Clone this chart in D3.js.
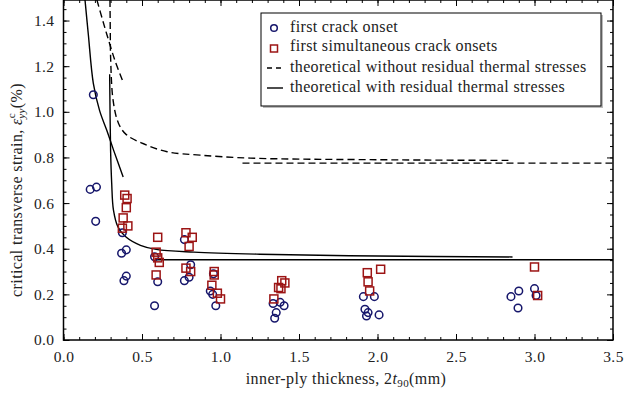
<!DOCTYPE html>
<html>
<head>
<meta charset="utf-8">
<script src="https://cdn.jsdelivr.net/npm/d3@7"></script>
<style>
  body { margin: 0; background: #fff; }
  text { font-family: "Liberation Serif", serif; fill: #222; }
</style>
</head>
<body>
<div id="chart"></div>
<script>
// first crack onset (circles)
const onsetX = [0.19, 0.17, 0.21, 0.205, 0.375, 0.37, 0.40, 0.385, 0.40, 0.58, 0.60, 0.58,
  0.77, 0.81, 0.77, 0.80, 0.955, 0.935, 0.95, 0.97, 1.335, 1.38, 1.405, 1.355, 1.345,
  1.91, 1.98, 1.92, 1.94, 1.93, 2.01, 2.85, 2.90, 2.895, 3.0, 3.01];
const onsetY = [1.075, 0.66, 0.67, 0.52, 0.47, 0.38, 0.395, 0.26, 0.28, 0.365, 0.255, 0.15,
  0.44, 0.33, 0.26, 0.275, 0.29, 0.215, 0.2, 0.15, 0.16, 0.165, 0.15, 0.12, 0.095,
  0.19, 0.19, 0.135, 0.12, 0.105, 0.11, 0.19, 0.215, 0.14, 0.225, 0.195];

// first simultaneous crack onsets (squares)
const simulX = [0.39, 0.405, 0.40, 0.38, 0.375, 0.41, 0.60, 0.59, 0.60, 0.61, 0.59,
  0.78, 0.82, 0.80, 0.78, 0.81, 0.96, 0.96, 0.945, 0.98, 1.00,
  1.39, 1.41, 1.37, 1.385, 1.34, 1.935, 2.02, 1.94, 1.95, 3.0, 3.02];
const simulY = [0.635, 0.62, 0.58, 0.535, 0.49, 0.50, 0.45, 0.385, 0.36, 0.34, 0.285,
  0.47, 0.45, 0.41, 0.315, 0.30, 0.30, 0.285, 0.24, 0.205, 0.18,
  0.26, 0.25, 0.23, 0.225, 0.18, 0.295, 0.31, 0.255, 0.215, 0.32, 0.195];

// theoretical without residual thermal stresses (dashed)
const noResAX = [0.213, 0.25, 0.28, 0.33, 0.38];
const noResAY = [1.49, 1.40, 1.33, 1.22, 1.13];
const noResBX = [0.296, 0.298, 0.30, 0.316, 0.35, 0.40, 0.51, 0.66, 0.87, 1.19, 2.0, 2.86];
const noResBY = [1.49, 1.35, 1.24, 1.05, 0.95, 0.90, 0.86, 0.825, 0.81, 0.797, 0.79, 0.787];
const noResFlatX = [1.14, 3.5];
const noResFlatY = [0.775, 0.775];

// theoretical with residual thermal stresses (solid)
const resAX = [0.137, 0.158, 0.19, 0.23, 0.275, 0.32, 0.38];
const resAY = [1.49, 1.34, 1.125, 1.005, 0.92, 0.83, 0.714];
const resBX = [0.294, 0.30, 0.307, 0.318, 0.347, 0.40, 0.49, 0.59, 0.83, 1.25, 2.0, 2.86];
const resBY = [1.165, 0.83, 0.687, 0.57, 0.495, 0.45, 0.415, 0.397, 0.385, 0.376, 0.368, 0.364];
const resFlatX = [0.583, 3.5];
const resFlatY = [0.352, 0.352];

const xTicks = [0, 0.5, 1.0, 1.5, 2.0, 2.5, 3.0, 3.5];
const yTicks = [0, 0.2, 0.4, 0.6, 0.8, 1.0, 1.2, 1.4];

const legendLabels = ['first crack onset', 'first simultaneous crack onsets',
  'theoretical without residual thermal stresses', 'theoretical with residual thermal stresses'];

const width = 638, height = 396;
const navy = '#16166b', red = '#9c1414';

const svg = d3.select('#chart').append('svg')
  .attr('width', width)
  .attr('height', height);

const x = d3.scaleLinear().domain([0, 3.5]).range([63.5, 613]);
const y = d3.scaleLinear().domain([0, 1.49]).range([340, 0]);

const plot = svg.append('g');

plot.append('clipPath').attr('id', 'clip')
  .append('rect').attr('x', 63.5).attr('y', 0).attr('width', 613 - 63.5).attr('height', 340);

const zip = (xs, ys) => xs.map((v, i) => [v, ys[i]]);
const line = d3.line().x(d => x(d[0])).y(d => y(d[1])).curve(d3.curveCatmullRom.alpha(0.5));

const curves = plot.append('g').attr('clip-path', 'url(#clip)');
[[noResAX, noResAY], [noResBX, noResBY], [noResFlatX, noResFlatY]].forEach(c => {
  curves.append('path').datum(zip(c[0], c[1]))
    .attr('d', line).attr('fill', 'none').attr('stroke', '#000')
    .attr('stroke-width', 1.4).attr('stroke-dasharray', '7,4');
});
[[resAX, resAY], [resBX, resBY], [resFlatX, resFlatY]].forEach(c => {
  curves.append('path').datum(zip(c[0], c[1]))
    .attr('d', line).attr('fill', 'none').attr('stroke', '#000')
    .attr('stroke-width', 1.4);
});

plot.selectAll('.onset')
  .data(zip(onsetX, onsetY))
  .enter().append('circle')
  .attr('class', 'onset')
  .attr('cx', d => x(d[0]))
  .attr('cy', d => y(d[1]))
  .attr('r', 3.8)
  .attr('fill', 'none')
  .attr('stroke', navy)
  .attr('stroke-width', 1.5);

plot.selectAll('.simul')
  .data(zip(simulX, simulY))
  .enter().append('rect')
  .attr('class', 'simul')
  .attr('x', d => x(d[0]) - 4)
  .attr('y', d => y(d[1]) - 4)
  .attr('width', 8)
  .attr('height', 8)
  .attr('fill', 'none')
  .attr('stroke', red)
  .attr('stroke-width', 1.5);

// axes with inward ticks on all four sides
const xMinor = d3.range(0, 3.51, 0.1);
const yMinor = d3.range(0, 1.49, 0.05);

function addAxis(axis, tx, ty, labels) {
  const g = svg.append('g').attr('transform', `translate(${tx},${ty})`).call(axis);
  g.select('.domain').remove();
  g.selectAll('line').attr('stroke', '#000').attr('stroke-width', 1);
  if (!labels) g.selectAll('text').remove();
  return g;
}

addAxis(d3.axisBottom(x).tickValues(xTicks).tickSize(-6).tickPadding(11).tickFormat(d3.format('.1f')), 0, 340, true)
  .selectAll('text').style('font-size', '15.5px').style('letter-spacing', '0.4px');
addAxis(d3.axisBottom(x).tickValues(xMinor).tickSize(-3), 0, 340, false);
addAxis(d3.axisTop(x).tickValues(xTicks).tickSize(-6), 0, 0, false);
addAxis(d3.axisTop(x).tickValues(xMinor).tickSize(-3), 0, 0, false);
addAxis(d3.axisLeft(y).tickValues(yTicks).tickSize(-6).tickPadding(9).tickFormat(d3.format('.1f')), 63.5, 0, true)
  .selectAll('text').style('font-size', '15.5px').style('letter-spacing', '0.4px');
addAxis(d3.axisLeft(y).tickValues(yMinor).tickSize(-3), 63.5, 0, false);
addAxis(d3.axisRight(y).tickValues(yTicks).tickSize(-6), 613, 0, false);
addAxis(d3.axisRight(y).tickValues(yMinor).tickSize(-3), 613, 0, false);

svg.append('rect')
  .attr('x', 63.5).attr('y', 0)
  .attr('width', 613 - 63.5).attr('height', 340)
  .attr('fill', 'none').attr('stroke', '#000').attr('stroke-width', 1.5);

// axis labels
const xl = svg.append('text')
  .attr('x', 346).attr('y', 384)
  .attr('text-anchor', 'middle')
  .style('font-size', '16px')
  .style('letter-spacing', '0.4px');
xl.append('tspan').text('inner-ply thickness, 2');
xl.append('tspan').style('font-style', 'italic').text('t');
xl.append('tspan').attr('dy', 3).style('font-size', '11px').text('90');
xl.append('tspan').attr('dy', -3).text('(mm)');

const yl = svg.append('text')
  .attr('transform', 'translate(22,190) rotate(-90)')
  .attr('text-anchor', 'middle')
  .style('font-size', '16px')
  .style('letter-spacing', '0.4px');
yl.append('tspan').text('critical transverse strain, ');
yl.append('tspan').style('font-style', 'italic').text('ε');
yl.append('tspan').attr('dy', -7).style('font-size', '11px').text('c');
yl.append('tspan').attr('dx', -6).attr('dy', 10).style('font-size', '11px').style('font-style', 'italic').text('yy');
yl.append('tspan').attr('dy', -3).text('(%)');

// legend
const lg = svg.append('g');
lg.append('rect').attr('x', 263).attr('y', 15).attr('width', 340).attr('height', 93).attr('fill', '#bbb');
lg.append('rect').attr('x', 261).attr('y', 13).attr('width', 340).attr('height', 93)
  .attr('fill', '#fff').attr('stroke', '#000').attr('stroke-width', 1);
const rowY = [28, 47, 68, 88];
lg.append('circle').attr('cx', 274).attr('cy', rowY[0]).attr('r', 3.3)
  .attr('fill', 'none').attr('stroke', navy).attr('stroke-width', 1.5);
lg.append('rect').attr('x', 270.5).attr('y', rowY[1] - 2).attr('width', 7).attr('height', 7)
  .attr('fill', 'none').attr('stroke', red).attr('stroke-width', 1.5);
lg.append('line').attr('x1', 267).attr('x2', 283).attr('y1', rowY[2]).attr('y2', rowY[2])
  .attr('stroke', '#000').attr('stroke-width', 1.4).attr('stroke-dasharray', '5,4');
lg.append('line').attr('x1', 267).attr('x2', 283).attr('y1', rowY[3]).attr('y2', rowY[3])
  .attr('stroke', '#000').attr('stroke-width', 1.4);
lg.selectAll('.lt').data(legendLabels).enter().append('text')
  .attr('x', 290).attr('y', (d, i) => rowY[i] + 4)
  .style('font-size', '16px')
  .style('letter-spacing', '0.35px')
  .text(d => d);
</script>
</body>
</html>
